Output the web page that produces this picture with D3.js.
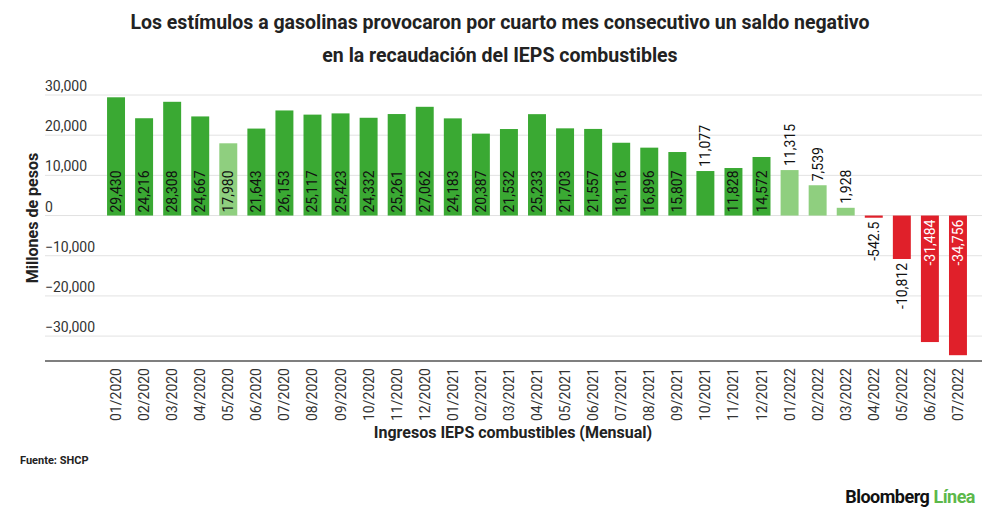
<!DOCTYPE html>
<html><head><meta charset="utf-8">
<script src="https://cdn.jsdelivr.net/npm/d3@7"></script>
<style>body{margin:0;background:#fff;font-family:Roboto,"Liberation Sans",sans-serif}</style>
</head><body><svg id="c" width="1000" height="520"></svg>
<script>
const months = ["01/2020","02/2020","03/2020","04/2020","05/2020","06/2020","07/2020","08/2020","09/2020","10/2020","11/2020","12/2020","01/2021","02/2021","03/2021","04/2021","05/2021","06/2021","07/2021","08/2021","09/2021","10/2021","11/2021","12/2021","01/2022","02/2022","03/2022","04/2022","05/2022","06/2022","07/2022"];
const values = [29430,24216,28308,24667,17980,21643,26153,25117,25423,24332,25261,27062,24183,20387,21532,25233,21703,21557,18116,16896,15807,11077,11828,14572,11315,7539,1928,-542.5,-10812,-31484,-34756];
const labels = ["29,430","24,216","28,308","24,667","17,980","21,643","26,153","25,117","25,423","24,332","25,261","27,062","24,183","20,387","21,532","25,233","21,703","21,557","18,116","16,896","15,807","11,077","11,828","14,572","11,315","7,539","1,928","-542.5","-10,812","-31,484","-34,756"];
const lightMonths = ["05/2020","01/2022","02/2022","03/2022"];
const yTicks = [-30000,-20000,-10000,0,10000,20000,30000];

const svg = d3.select("#c");
const x = d3.scaleBand().domain(months).range([102,972]).paddingInner(0.36).paddingOuter(0.18);
const y = d3.scaleLinear().domain([-36200,30000]).range([361,95]);

svg.append("g").selectAll("line").data(yTicks).join("line")
  .attr("x1",45).attr("x2",982).attr("y1",d=>y(d)).attr("y2",d=>y(d))
  .attr("stroke","#e2e2e2");
svg.append("g").selectAll("text").data(yTicks).join("text")
  .attr("x",45).attr("y",d=>y(d)-4).attr("font-size",14).attr("fill","#333")
  .text(d=>d3.format(",")(d));
svg.append("line").attr("x1",45).attr("x2",982).attr("y1",y(-36200)).attr("y2",y(-36200)).attr("stroke","#555").attr("stroke-width",1.5);

const col = (m,v)=> v<0 ? "#e0202a" : (lightMonths.includes(m) ? "#8fcf7f" : "#3aa933");
const data = months.map((m,i)=>({m,v:values[i],l:labels[i]}));
svg.append("g").selectAll("rect").data(data).join("rect")
  .attr("x",d=>x(d.m)).attr("width",x.bandwidth())
  .attr("y",d=>y(Math.max(0,d.v))).attr("height",d=>Math.max(1.5,Math.abs(y(d.v)-y(0))))
  .attr("fill",d=>col(d.m,d.v));

svg.append("g").selectAll("text").data(data).join("text")
  .attr("font-size",14)
  .attr("transform",d=>{
    const cx = x(d.m)+x.bandwidth()/2+5;
    const inside = Math.abs(d.v)>11500;
    let py;
    if(d.v>=0) py = inside ? y(0)-3 : y(d.v)-4;
    else py = inside ? y(0)+4 : y(d.v)+4;
    return `translate(${cx},${py}) rotate(-90)`;
  })
  .attr("text-anchor",d=>d.v>=0?"start":"end")
  .attr("fill",d=>(d.v< -11500)?"#fff":"#111")
  .text(d=>d.l);

svg.append("g").selectAll("text").data(months).join("text")
  .attr("font-size",14).attr("fill","#333").attr("text-anchor","end")
  .attr("transform",m=>`translate(${x(m)+x.bandwidth()/2+5},368) rotate(-90)`)
  .text(m=>m);

svg.append("text").attr("x",500).attr("y",29).attr("text-anchor","middle").attr("font-size",19.5).attr("font-weight","bold").attr("fill","#222")
  .text("Los estímulos a gasolinas provocaron por cuarto mes consecutivo un saldo negativo");
svg.append("text").attr("x",500).attr("y",62).attr("text-anchor","middle").attr("font-size",19.5).attr("font-weight","bold").attr("fill","#222")
  .text("en la recaudación del IEPS combustibles");
svg.append("text").attr("transform","translate(38,218) rotate(-90)").attr("text-anchor","middle").attr("font-size",16).attr("font-weight","bold").attr("fill","#222")
  .text("Millones de pesos");
svg.append("text").attr("x",513).attr("y",438).attr("text-anchor","middle").attr("font-size",16).attr("font-weight","bold").attr("fill","#222")
  .text("Ingresos IEPS combustibles (Mensual)");
svg.append("text").attr("x",20).attr("y",464).attr("font-size",11).attr("font-weight","bold").attr("fill","#222").text("Fuente: SHCP");
const logo = svg.append("text").attr("x",975).attr("y",503).attr("text-anchor","end").attr("font-size",18).attr("font-weight","bold").attr("letter-spacing","-0.5");
logo.append("tspan").attr("fill","#111").text("Bloomberg ");
logo.append("tspan").attr("fill","#5cb84a").text("Línea");
</script></body></html>
